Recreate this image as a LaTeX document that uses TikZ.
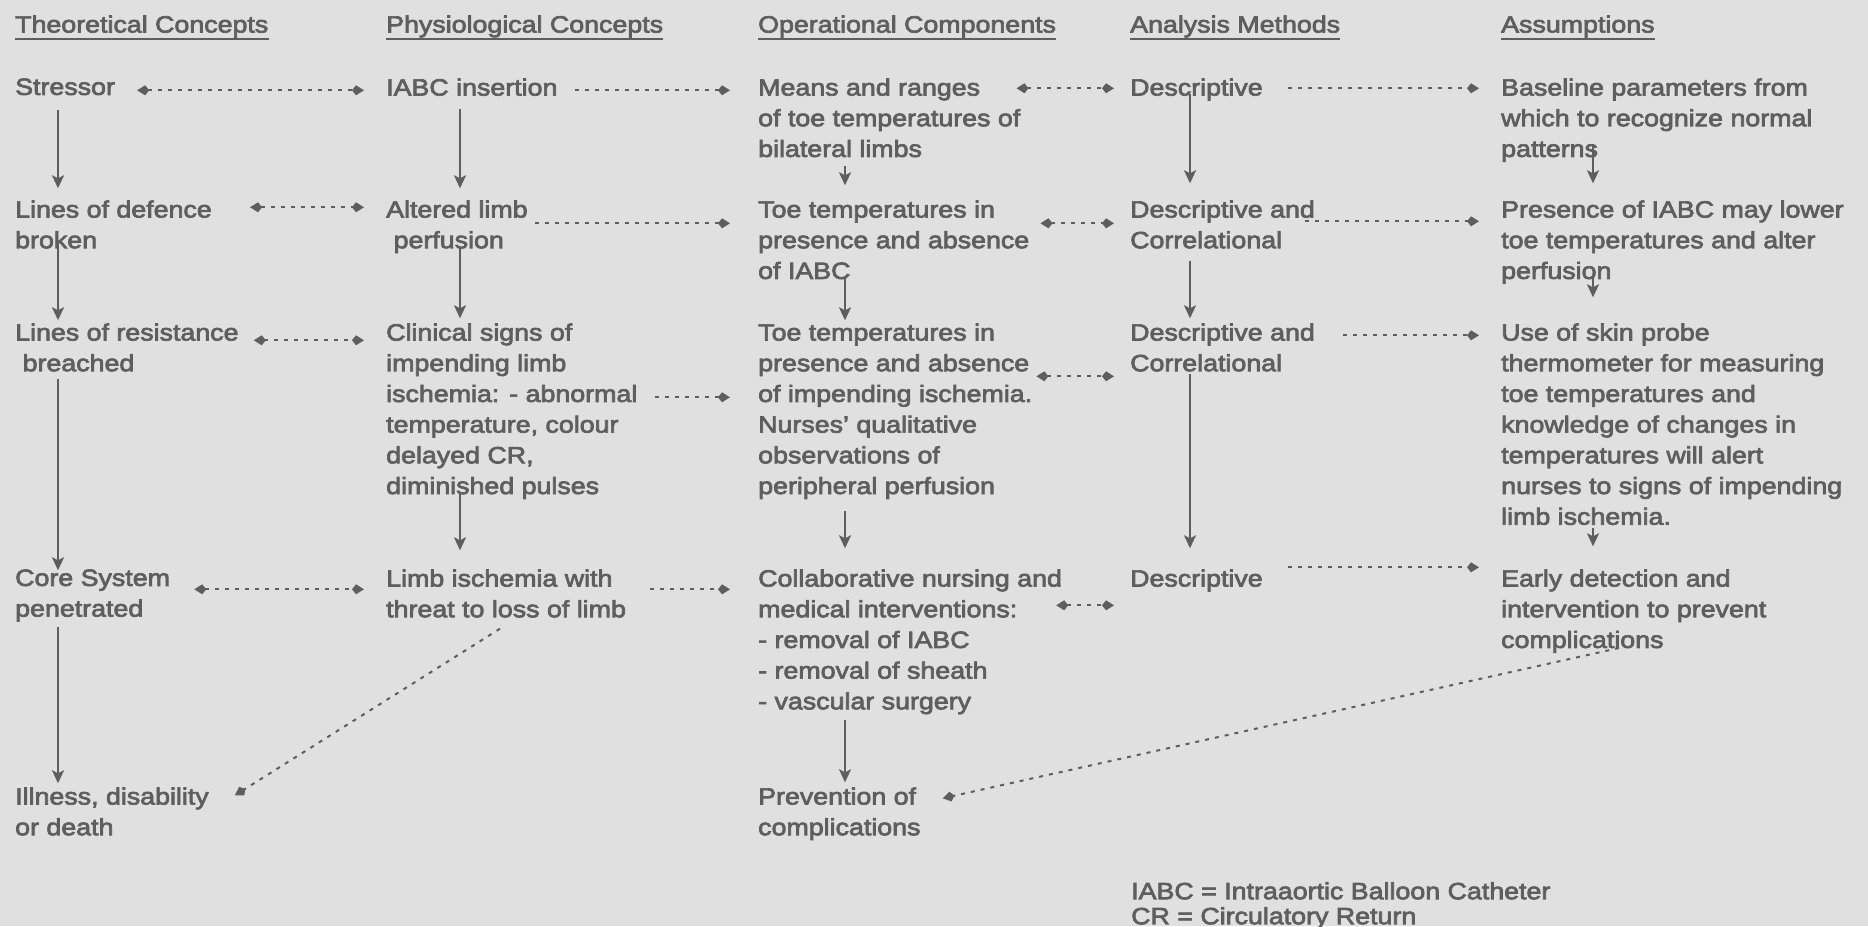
\documentclass[tikz,border=0pt]{standalone}
\usepackage{fontspec}
\setmainfont{Liberation Sans}[FakeStretch=1.14, FakeBold=3]
\usetikzlibrary{arrows.meta}

\colorlet{ink}{black!63}
\colorlet{paper}{black!12}

\begin{document}
\begin{tikzpicture}[x=1pt, y=-1pt,
    every node/.style={text=ink, inner sep=0pt, anchor=north west, align=left,
      font=\fontsize{23.5}{30.7}\selectfont},
    down/.style={ink, line width=2pt, -{Stealth[length=13pt, width=12pt, inset=3pt]}},
    link/.style={ink, line width=2pt, dash pattern=on 4pt off 6pt,
      -{Kite[length=12pt, width=10pt, inset=4pt]}},
    both/.style={link, {Kite[length=12pt, width=10pt, inset=4pt]}-{Kite[length=12pt, width=10pt, inset=4pt]}},
  ]
    \useasboundingbox (0,0) rectangle (1868,926);
    \fill[paper] (0,0) rectangle (1868,926);

    % column heads
    \node (hTheo) at (15,15.3) {Theoretical Concepts};
    \node (hPhys) at (386,15.3) {Physiological Concepts};
    \node (hOper) at (758,15.3) {Operational Components};
    \node (hAnal) at (1130,15.3) {Analysis Methods};
    \node (hAssu) at (1501,15.3) {Assumptions};
    \foreach \h in {hTheo,hPhys,hOper,hAnal,hAssu}
      \draw[ink, line width=2pt] ([yshift=-1.5]\h.south west) -- ([yshift=-1.5]\h.south east);

    % theoretical
    \node (stressor) at (15,78.3) {Stressor};
    \node (defence) at (15,200.3) {Lines of defence\\broken};
    \node (resist) at (15,323.3) {Lines of resistance\\\ breached};
    \node (core) at (15,569.3) {Core System\\penetrated};
    \node (illness) at (15,787.3) {Illness, disability\\or death};

    % physiological
    \node (iabc) at (386,78.3) {IABC insertion};
    \node (altered) at (386,200.3) {Altered limb\\\ perfusion};
    \node (clinical) at (386,323.3) {Clinical signs of\\impending limb\\ischemia: - abnormal\\temperature, colour\\delayed CR,\\diminished pulses};
    \node (ischemia) at (386,569.3) {Limb ischemia with\\threat to loss of limb};

    % operational
    \node (means) at (758,78.3) {Means and ranges\\of toe temperatures of\\bilateral limbs};
    \node (toeA) at (758,200.3) {Toe temperatures in\\presence and absence\\of IABC};
    \node (toeB) at (758,323.3) {Toe temperatures in\\presence and absence\\of impending ischemia.\\Nurses' qualitative\\observations of\\peripheral perfusion};
    \node (collab) at (758,569.3) {Collaborative nursing and\\medical interventions:\\- removal of IABC\\- removal of sheath\\- vascular surgery};
    \node (prevent) at (758,787.3) {Prevention of\\complications};

    % analysis
    \node (descA) at (1130,78.3) {Descriptive};
    \node (descB) at (1130,200.3) {Descriptive and\\Correlational};
    \node (descC) at (1130,323.3) {Descriptive and\\Correlational};
    \node (descD) at (1130,569.3) {Descriptive};

    % assumptions
    \node (basel) at (1501,78.3) {Baseline parameters from\\which to recognize normal\\patterns};
    \node (presence) at (1501,200.3) {Presence of IABC may lower\\toe temperatures and alter\\perfusion};
    \node (skin) at (1501,323.3) {Use of skin probe\\thermometer for measuring\\toe temperatures and\\knowledge of changes in\\temperatures will alert\\nurses to signs of impending\\limb ischemia.};
    \node (early) at (1501,569.3) {Early detection and\\intervention to prevent\\complications};

    \node[font=\fontsize{23.5}{25}\selectfont] (key) at (1131,882) {IABC = Intraaortic Balloon Catheter\\CR = Circulatory Return};

    % solid arrows down each column
    \foreach \a/\b/\dx/\sy/\ey in {
        stressor/defence/43/-15/12, defence/resist/43/5/3, resist/core/43/-7/-1, core/illness/43/-5/4,
        iabc/altered/74/-13/12, altered/clinical/74/5/5, clinical/ischemia/74/5/19,
        means/toeA/87/-9/15, toeA/toeB/87/1/3, toeB/collab/87/-12/21, collab/prevent/87/-6/5,
        descA/descB/60/7/17, descB/descC/60/-12/5, descC/descD/60/-2/21,
        basel/presence/92/18/17, presence/skin/92/6/26, skin/early/92/-3/23}
      \draw[down] ([xshift=\dx, yshift=\sy]\a.south west) -- ([xshift=\dx, yshift=\ey]\b.north west);

    % dotted links across the rows
    \foreach \a/\b/\g/\e/\dy in {
        stressor/iabc/22/-22/-12, means/descA/-4/-16/-10, defence/altered/38/-22/-7,
        toeA/descB/11/-16/-23, resist/clinical/15/-22/-17, toeB/descC/4/-16/-53,
        core/ischemia/24/-22/-20, collab/descD/-6/-16/-36}
      \draw[both] ([xshift=\g, yshift=\dy]\a.north east) -- ([xshift=\e, yshift=\dy]\a.north east -| \b.west);
    \foreach \a/\b/\g/\e/\dy in {
        iabc/means/17/-28/-12, descA/basel/25/-22/-10, altered/toeA/7/-28/-23,
        descB/presence/-10/-22/-21, clinical/toeB/17/-28/-74, descC/skin/28/-22/-12,
        ischemia/collab/24/-28/-20, descD/early/25/-22/2}
      \draw[link] ([xshift=\g, yshift=\dy]\a.north east) -- ([xshift=\e, yshift=\dy]\a.north east -| \b.west);

    \draw[link] ([xshift=114, yshift=-11]ischemia.south west) -- ([xshift=26, yshift=-8]illness.north east);
    \draw[link] ([xshift=118, yshift=5]early.south west) -- ([xshift=22, yshift=-11]prevent.north east);
\end{tikzpicture}
\end{document}
